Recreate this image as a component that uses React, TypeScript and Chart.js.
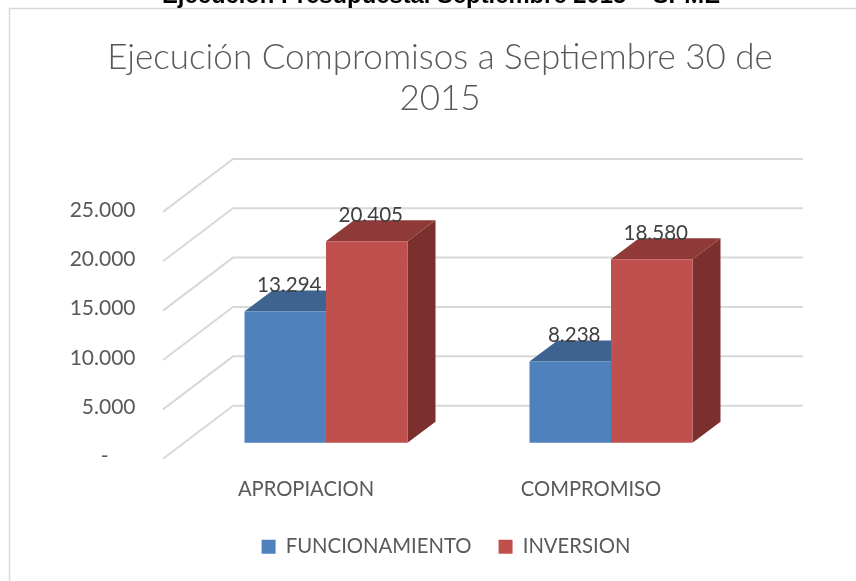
import { useEffect, useRef } from "react";
import { Chart, registerables } from "chart.js";

Chart.register(...registerables);

const categories = ["APROPIACION", "COMPROMISO"];
const funcionamiento = [13294, 8238];
const inversion = [20405, 18580];
const tickValues = [0, 5000, 10000, 15000, 20000, 25000];
const titleLines = ["Ejecución Compromisos a Septiembre 30 de", "2015"];
const heading = "Ejecución Presupuestal Septiembre 2015 – SPME";

const FONT = "Lato, 'Open Sans', sans-serif";
const fmt = (v: number) => (v === 0 ? "-\u00a0\u00a0\u00a0\u00a0\u00a0" : v.toLocaleString("de-DE"));

const frame3d = {
  id: "frame3d",
  afterLayout(chart: any) {
    chart.legend.left += 12;
  },
  beforeDraw(chart: any) {
    const c = chart.ctx;
    c.save();
    c.fillStyle = "#fff";
    c.fillRect(0, 0, chart.width, chart.height);
    c.strokeStyle = "#D9D9D9";
    c.lineWidth = 1.5;
    c.strokeRect(9.5, 8.5, 900, 700);
    c.fillStyle = "#000";
    c.font = "bold 23.8px 'Liberation Sans'";
    c.textAlign = "center";
    c.textBaseline = "alphabetic";
    c.fillText(heading, 441, 3);
    c.restore();
  },
  beforeDatasetsDraw(chart: any) {
    const c = chart.ctx;
    const y = chart.scales.y;
    const { left } = chart.chartArea;
    c.save();
    c.strokeStyle = "#D9D9D9";
    c.lineWidth = 2;
    tickValues.forEach((v) => {
      const p = y.getPixelForValue(v);
      c.beginPath();
      c.moveTo(left - 20.5, p + 2);
      c.lineTo(left + 49.5, p - 51);
      c.lineTo(803, p - 51);
      c.stroke();
    });
    const dx = 28;
    const dy = -21;
    const tops = ["#3E6391", "#8F3A38"];
    const sides = ["#3A5D88", "#7B302E"];
    chart.data.datasets.forEach((_: any, i: number) => {
      chart.getDatasetMeta(i).data.forEach((b: any) => {
        const half = b.width / 2;
        const l = b.x - half;
        const r = b.x + half;
        c.fillStyle = sides[i];
        c.beginPath();
        c.moveTo(r, b.y);
        c.lineTo(r + dx, b.y + dy);
        c.lineTo(r + dx, b.base + dy);
        c.lineTo(r, b.base);
        c.closePath();
        c.fill();
        c.fillStyle = tops[i];
        c.beginPath();
        c.moveTo(l, b.y);
        c.lineTo(l + dx, b.y + dy);
        c.lineTo(r + dx, b.y + dy);
        c.lineTo(r, b.y);
        c.closePath();
        c.fill();
      });
    });
    c.restore();
  },
  afterDatasetsDraw(chart: any) {
    const c = chart.ctx;
    c.save();
    c.fillStyle = "#404040";
    c.font = `20.6px ${FONT}`;
    c.textAlign = "center";
    c.textBaseline = "middle";
    chart.data.datasets.forEach((ds: any, i: number) => {
      chart.getDatasetMeta(i).data.forEach((b: any, j: number) => {
        c.fillText(fmt(ds.data[j]), b.x + 4, b.y - 26);
      });
    });
    c.restore();
  },
};

export default function App() {
  const ref = useRef<HTMLCanvasElement>(null);
  useEffect(() => {
    const chart = new Chart(ref.current!, {
      type: "bar",
      plugins: [frame3d],
      data: {
        labels: categories,
        datasets: [
          { label: "FUNCIONAMIENTO", data: funcionamiento, backgroundColor: "#4F81BD", yAxisID: "yBars" },
          { label: "INVERSION", data: inversion, backgroundColor: "#C0504D", yAxisID: "yBars" },
        ],
      },
      options: {
        animation: false,
        responsive: false,
        layout: { padding: { left: 24, right: 0, top: 0, bottom: 14 } },
        datasets: { bar: { categoryPercentage: 0.572, barPercentage: 1 } },
        scales: {
          x: {
            grid: { display: false },
            border: { display: false },
            ticks: { color: "#595959", font: { family: FONT, size: 20.2 }, labelOffset: -20, padding: 13, maxRotation: 0 },
            afterFit: (s: any) => { s.height = 53; },
          },
          y: {
            position: "left",
            min: 0,
            max: 25000,
            grid: { display: false },
            border: { display: false },
            afterBuildTicks: (s: any) => { s.ticks = tickValues.map((value) => ({ value })); },
            ticks: { color: "#595959", font: { family: FONT, size: 21 }, padding: 40, callback: (v: any) => fmt(Number(v)) },
            afterFit: (s: any) => { s.width = 159.5; },
          },
          yBars: {
            position: "right",
            min: -1411,
            max: 23589,
            grid: { display: false },
            border: { display: false },
            ticks: { display: false },
            afterFit: (s: any) => { s.width = 102.5; },
          },
        },
        plugins: {
          tooltip: { enabled: false },
          title: {
            display: true,
            text: titleLines,
            color: "#595959",
            font: { family: FONT, size: 35, weight: "300", lineHeight: 1.17 },
            padding: { top: 37, bottom: 91 },
          },
          legend: {
            position: "bottom",
            labels: { color: "#595959", font: { family: FONT, size: 20.3 }, boxWidth: 14, boxHeight: 14, padding: 27 },
          },
        },
      },
    } as any);
    return () => chart.destroy();
  }, []);
  return (
    <div style={{ position: "fixed", left: 0, top: 0, width: 856, height: 581, overflow: "hidden" }}>
      <canvas ref={ref} width={856} height={581} style={{ display: "block" }} />
    </div>
  );
}
